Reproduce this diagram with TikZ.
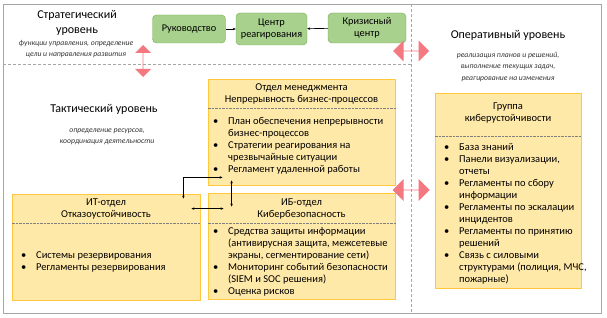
\documentclass[tikz,border=0pt]{standalone}
\usepackage{fontspec}
\setmainfont{Carlito}
\usepackage{xcolor}
\usepackage{tikz}
\usetikzlibrary{arrows.meta, positioning, shapes.arrows, calc}

\definecolor{grfill}{HTML}{A9D18E}
\definecolor{grline}{HTML}{70AD47}
\definecolor{ylfill}{HTML}{FFE9A8}
\definecolor{ylline}{HTML}{FFC83D}
\definecolor{bigred}{HTML}{F47880}
\definecolor{frame}{HTML}{A6A6A6}

\newcommand{\itm}[1]{\makebox[15pt][l]{\textbullet}#1}
\newcommand{\cnt}[1]{\hspace*{15pt}#1}

\begin{document}
\begin{tikzpicture}[
  x=1pt, y=-1pt,
  every node/.style={font=\fontsize{10.5}{12}\selectfont},
  level/.style={align=center, font=\fontsize{12}{14.5}\selectfont},
  note/.style={align=center, font=\fontsize{7.7}{11.5}\selectfont\itshape, text=black!80},
  role/.style={rectangle, draw=grline, fill=grfill, rounded corners=4pt, align=center, inner sep=2pt, font=\fontsize{10.3}{12.5}\selectfont},
  dept/.style={rectangle, draw=ylline, thick, fill=ylfill, inner sep=0pt},
  head/.style={align=center, inner sep=0pt},
  list/.style={align=left, inner sep=0pt, anchor=west},
  divider/.style={densely dotted, gray},
  link/.style={{Stealth[length=3pt,width=2.5pt]}-{Stealth[length=3pt,width=2.5pt]}, semithick},
  arrow/.style={-{Stealth[length=3pt,width=2.5pt]}, semithick},
  fat/.style={double arrow, fill=bigred, draw=none, inner sep=0pt},
]
  \useasboundingbox (0,0) rectangle (607,318);

  % frame and level borders
  \draw[frame] (3,4) rectangle (601,313);
  \draw[frame, densely dashed] (411,4) -- (411,313);
  \draw[frame, densely dashed] (3,64) -- (411,64);

  % strategic level
  \node[level] (strat) at (77,23) {Стратегический\\уровень};
  \node[note] (stratnote) at (76,49) {функции управления, определение\\цели и направления развития};

  \node[role, minimum width=73pt, minimum height=28pt] (boss) at (189,29) {Руководство};
  \node[role, minimum width=71pt, minimum height=32pt] (center) at (271.5,29) {Центр\\реагирования};
  \node[role, minimum width=78pt, minimum height=30pt] (crisis) at (367,28) {Кризисный\\центр};
  \draw[arrow] (boss) -- (center);
  \draw[arrow] (crisis) -- (center);

  % tactical level
  \node[level] (tact) at (104,109) {Тактический уровень};
  \node[note] (tactnote) at (107,137) {определение ресурсов,\\координация деятельности};

  \node[dept, minimum width=187pt, minimum height=106pt] (bcm) at (301.5,132) {};
  \node[head] (bcmh) at (301.5,94) {Отдел менеджмента\\Непрерывность бизнес-процессов};
  \draw[divider] ($(bcm.north west)+(0,30)$) -- ($(bcm.north east)+(0,30)$);
  \node[list] (bcml) at (213,145.5) {\itm{План обеспечения непрерывности}\\\cnt{бизнес-процессов}\\\itm{Стратегии реагирования на}\\\cnt{чрезвычайные ситуации}\\\itm{Регламент удаленной работы}};

  \node[dept, minimum width=188pt, minimum height=106pt] (it) at (106,247) {};
  \node[head] (ith) at (106,209) {ИТ-отдел\\Отказоустойчивость};
  \draw[divider] ($(it.north west)+(0,30)$) -- ($(it.north east)+(0,30)$);
  \node[list] (itl) at (21,261.5) {\itm{Системы резервирования}\\\itm{Регламенты резервирования}};

  \node[dept, minimum width=187pt, minimum height=106pt] (sec) at (301.5,246) {};
  \node[head] (sech) at (301.5,209) {ИБ-отдел\\Кибербезопасность};
  \draw[divider] ($(sec.north west)+(0,31)$) -- ($(sec.north east)+(0,31)$);
  \node[list] (secl) at (213,262) {\itm{Средства защиты информации}\\\cnt{(антивирусная защита, межсетевые}\\\cnt{экраны, сегментирование сети)}\\\itm{Мониторинг событий безопасности}\\\cnt{(SIEM и SOC решения)}\\\itm{Оценка рисков}};

  % links between departments
  \coordinate (itA) at ($(it.north east)+(-17,5)$);
  \coordinate (bcmA) at ($(bcm.south west)+(15,-8)$);
  \coordinate (bcmB) at ($(bcm.south west)+(24,-5)$);
  \coordinate (secB) at ($(sec.north west)+(24,14)$);
  \coordinate (itC) at ($(it.north east)+(-9,15)$);
  \coordinate (secC) at ($(sec.north west)+(16,16)$);
  \draw[link] (itA) |- (bcmA);
  \draw[link] (bcmB) -- (secB);
  \draw[link] (itC) -- (secC);

  % operational level
  \node[level] (oper) at (508,35) {Оперативный уровень};
  \node[note] (opernote) at (508,67) {реализация планов и решений,\\выполнение текущих задач,\\реагирование на изменения};

  \node[dept, minimum width=146pt, minimum height=195pt] (grp) at (508,190.5) {};
  \node[head] (grph) at (508,112.5) {Группа\\киберустойчивости};
  \draw[divider] ($(grp.north west)+(0,44)$) -- ($(grp.north east)+(0,44)$);
  \node[list] (grpl) at (444,214) {\itm{База знаний}\\\itm{Панели визуализации,}\\\cnt{отчеты}\\\itm{Регламенты по сбору}\\\cnt{информации}\\\itm{Регламенты по эскалации}\\\cnt{инцидентов}\\\itm{Регламенты по принятию}\\\cnt{решений}\\\itm{Связь с силовыми}\\\cnt{структурами (полиция, МЧС,}\\\cnt{пожарные)}};

  % level interaction arrows
  \node[fat, rotate=90, minimum height=32pt, minimum width=16pt, double arrow head extend=3.5pt] (stt) at (143,61) {};
  \node[fat, minimum height=36pt, minimum width=21pt, double arrow head extend=5pt] (sto) at (411,51) {};
  \node[fat, minimum height=37pt, minimum width=22pt, double arrow head extend=5pt] (tto) at (411,190) {};
\end{tikzpicture}
\end{document}
